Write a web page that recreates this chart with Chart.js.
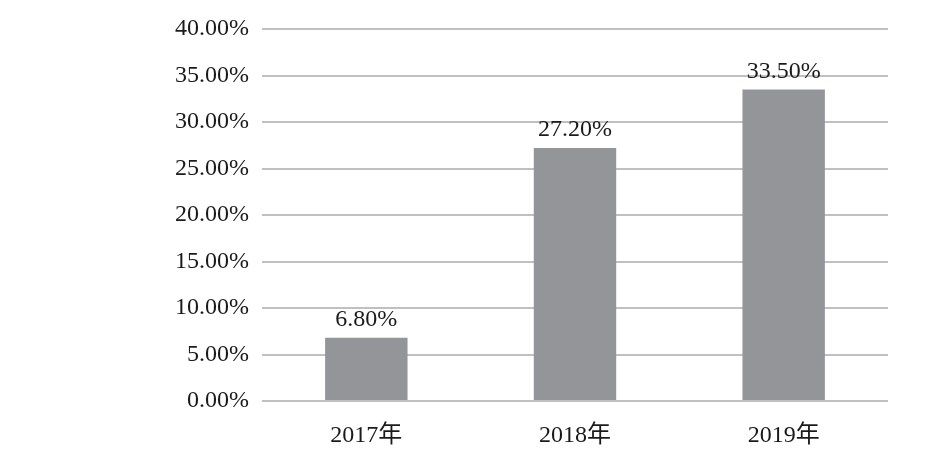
<!DOCTYPE html>
<html>
<head>
<meta charset="utf-8">
<script src="https://cdn.jsdelivr.net/npm/chart.js@4"></script>
<style>
  html, body { margin: 0; padding: 0; background: #fff; }
  #wrap { width: 941px; height: 458px; }
</style>
</head>
<body>
<div id="wrap"><canvas id="myChart" width="941" height="458"></canvas></div>
<script>
const years = ['2017年', '2018年', '2019年'];
const rates = [6.8, 27.2, 33.5];
const yTicks = [0, 5, 10, 15, 20, 25, 30, 35, 40];

const FONT = '"Liberation Serif", "Times New Roman", "Noto Sans CJK SC", serif';

/* etiquetas encima de las barras */
const barLabels = {
  id: 'barLabels',
  afterDatasetsDraw(chart) {
    const ctx = chart.ctx;
    const meta = chart.getDatasetMeta(0);
    ctx.save();
    ctx.font = '24px ' + FONT;
    ctx.fillStyle = '#1a1a1a';
    ctx.textAlign = 'center';
    ctx.textBaseline = 'bottom';
    meta.data.forEach((bar, i) => {
      ctx.fillText(rates[i].toFixed(2) + '%', bar.x, bar.y - 6);
    });
    ctx.restore();
  }
};

const ctx = document.getElementById('myChart');
new Chart(ctx, {
  type: 'bar',
  data: {
    labels: years,
    datasets: [{
      data: rates,
      backgroundColor: '#939598',
      barPercentage: 0.79,
      categoryPercentage: 0.5
    }]
  },
  options: {
    responsive: false,
    animation: false,
    layout: { padding: { top: 29, right: 53, left: 0, bottom: 0 } },
    plugins: { legend: { display: false }, tooltip: { enabled: false } },
    scales: {
      x: {
        grid: { display: false },
        border: { display: false },
        ticks: { color: '#1a1a1a', font: { family: FONT, size: 24 }, padding: 12 },
        afterFit: (s) => { s.height = 57; s.paddingLeft = 0; s.paddingRight = 0; }
      },
      y: {
        min: 0,
        max: 40,
        afterBuildTicks: (s) => { s.ticks = yTicks.map(v => ({ value: v })); },
        grid: { color: '#c0c0c0', lineWidth: 2, drawTicks: false },
        border: { display: false },
        ticks: {
          color: '#1a1a1a',
          font: { family: FONT, size: 24 },
          padding: 13,
          callback: (v) => v.toFixed(2) + '%'
        },
        afterFit: (s) => { s.width = 262; s.paddingTop = 0; s.paddingBottom = 0; }
      }
    }
  },
  plugins: [barLabels]
});
</script>
</body>
</html>
